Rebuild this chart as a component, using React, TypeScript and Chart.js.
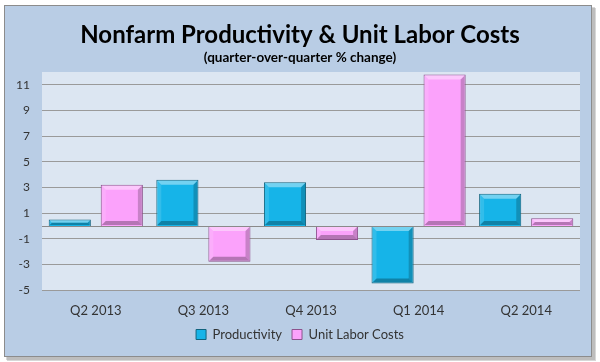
import React, { useEffect, useRef } from "react";
import { Chart, registerables } from "chart.js";

Chart.register(...registerables);

const categories = ["Q2 2013", "Q3 2013", "Q4 2013", "Q1 2014", "Q2 2014"];
const productivity = [0.5, 3.6, 3.4, -4.5, 2.5];
const unitLaborCosts = [3.2, -2.8, -1.1, 11.8, 0.6];
const yTickValues = [-5, -3, -1, 1, 3, 5, 7, 9, 11];
const titleText = "Nonfarm Productivity & Unit Labor Costs";
const subtitleText = "(quarter-over-quarter % change)";

const FONT = "Lato, 'Open Sans', sans-serif";

const panelPlugin = {
  id: "panel",
  beforeDraw(chart: any) {
    const { ctx, width, height, chartArea } = chart;
    ctx.save();
    ctx.fillStyle = "#ffffff";
    ctx.fillRect(0, 0, width, height);
    ctx.fillStyle = "rgba(140,140,140,0.35)";
    ctx.fillRect(7, 8, 589, 353);
    ctx.fillStyle = "rgba(140,140,140,0.35)";
    ctx.fillRect(6, 7, 589, 353);
    ctx.fillStyle = "#b9cde5";
    ctx.fillRect(4, 5, 588, 352);
    ctx.strokeStyle = "#8c8c8c";
    ctx.lineWidth = 1;
    ctx.strokeRect(4.5, 5.5, 587, 351);
    ctx.fillStyle = "#dce6f2";
    ctx.fillRect(chartArea.left, chartArea.top, chartArea.right - chartArea.left, chartArea.bottom - chartArea.top);
    ctx.restore();
  },
  afterDatasetsDraw(chart: any) {
    const { ctx } = chart;
    const y = chart.scales.y;
    ctx.save();
    chart.data.datasets.forEach((ds: any, i: number) => {
      const meta = chart.getDatasetMeta(i);
      meta.data.forEach((bar: any) => {
        const l = bar.x - bar.width / 2 + 1;
        const r = bar.x + bar.width / 2 - 1;
        const t = Math.min(bar.y, bar.base) + 1;
        const b = Math.max(bar.y, bar.base) - 1;
        const bv = Math.min(4, (b - t) / 2, (r - l) / 2);
        if (bv <= 0) return;
        ctx.fillStyle = "rgba(255,255,255,0.4)";
        ctx.beginPath();
        ctx.moveTo(l, t); ctx.lineTo(r, t); ctx.lineTo(r - bv, t + bv); ctx.lineTo(l + bv, t + bv); ctx.closePath(); ctx.fill();
        ctx.fillStyle = "rgba(255,255,255,0.12)";
        ctx.beginPath();
        ctx.moveTo(l, t); ctx.lineTo(l + bv, t + bv); ctx.lineTo(l + bv, b - bv); ctx.lineTo(l, b); ctx.closePath(); ctx.fill();
        ctx.fillStyle = "rgba(0,0,0,0.2)";
        ctx.beginPath();
        ctx.moveTo(r, t); ctx.lineTo(r, b); ctx.lineTo(r - bv, b - bv); ctx.lineTo(r - bv, t + bv); ctx.closePath(); ctx.fill();
        ctx.fillStyle = "rgba(0,0,0,0.28)";
        ctx.beginPath();
        ctx.moveTo(l, b); ctx.lineTo(r, b); ctx.lineTo(r - bv, b - bv); ctx.lineTo(l + bv, b - bv); ctx.closePath(); ctx.fill();
      });
    });
    const zy = Math.round(y.getPixelForValue(0)) + 0.5;
    ctx.strokeStyle = "#8a8a8a";
    ctx.lineWidth = 1;
    ctx.beginPath();
    ctx.moveTo(chart.chartArea.left, zy);
    ctx.lineTo(chart.chartArea.right, zy);
    ctx.stroke();
    ctx.restore();
  },
};

export default function App() {
  const ref = useRef<HTMLCanvasElement>(null);
  useEffect(() => {
    document.body.style.margin = "0";
    const chart = new Chart(ref.current as HTMLCanvasElement, {
      type: "bar",
      data: {
        labels: categories,
        datasets: [
          {
            label: "Productivity",
            data: productivity,
            backgroundColor: "#16b4e8",
            borderColor: "#11637e",
            borderWidth: 1,
            barPercentage: 0.81,
            categoryPercentage: 0.967,
          },
          {
            label: "Unit Labor Costs",
            data: unitLaborCosts,
            backgroundColor: "#fba2fb",
            borderColor: "#8d528d",
            borderWidth: 1,
            barPercentage: 0.81,
            categoryPercentage: 0.967,
          },
        ],
      },
      options: {
        responsive: false,
        animation: false,
        layout: { padding: { left: 0, right: 0, top: 0, bottom: 11 } },
        plugins: {
          title: {
            display: true,
            text: titleText,
            color: "#000000",
            font: { family: FONT, size: 24, weight: "bold", lineHeight: 1.2 },
            padding: { top: 21, bottom: 0 },
          },
          subtitle: {
            display: true,
            text: subtitleText,
            color: "#000000",
            font: { family: FONT, size: 13.5, weight: "bold", lineHeight: 1.2 },
            padding: { top: 0, bottom: 6 },
          },
          legend: {
            position: "bottom",
            labels: {
              boxWidth: 10,
              boxHeight: 10,
              color: "#333333",
              font: { family: FONT, size: 13 },
              padding: 10,
            },
          },
          tooltip: { enabled: false },
        },
        scales: {
          x: {
            grid: { display: false, drawTicks: false },
            border: { display: false },
            ticks: { color: "#333333", font: { family: FONT, size: 13 }, padding: 13 },
            afterFit(scale: any) {
              scale.height = 28;
            },
          },
          y: {
            min: -5,
            max: 12,
            afterBuildTicks(scale: any) {
              scale.ticks = yTickValues.map((v) => ({ value: v }));
            },
            grid: { color: "#9a9a9a", drawTicks: false, lineWidth: 1 },
            border: { display: false },
            ticks: { color: "#333333", font: { family: FONT, size: 12 }, padding: 12 },
            afterFit(scale: any) {
              scale.width = 42;
            },
          },
          yRight: {
            position: "right",
            display: true,
            min: -5,
            max: 12,
            grid: { display: false, drawTicks: false },
            border: { display: false },
            ticks: { display: false },
            afterFit(scale: any) {
              scale.width = 20;
            },
          },
        },
      },
      plugins: [panelPlugin],
    } as any);
    return () => chart.destroy();
  }, []);
  return <canvas ref={ref} width={600} height={362} />;
}
